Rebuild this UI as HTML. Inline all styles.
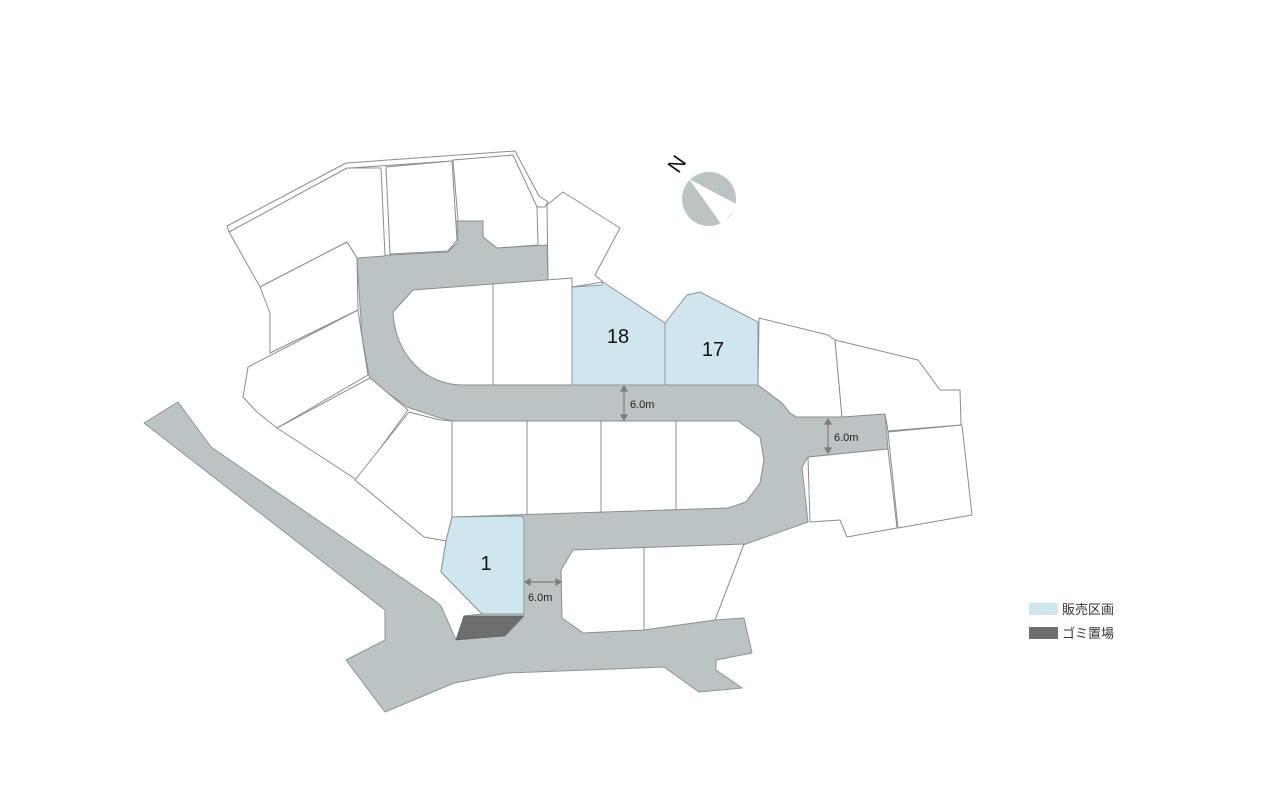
<!DOCTYPE html>
<html><head><meta charset="utf-8"><style>
html,body{margin:0;padding:0;background:#fff;}
svg{display:block;}
text{font-family:"Liberation Sans","Noto Sans CJK JP",sans-serif;}
</style></head><body>
<svg width="1280" height="800" viewBox="0 0 1280 800" xmlns="http://www.w3.org/2000/svg">
<rect width="1280" height="800" fill="#fff"/>
<polygon fill="#bcc3c5" stroke="#8c9496" stroke-width="1" stroke-linejoin="round" points="357,258 390,255 448,252 458,242 457,221 483,221 483,237 497,248 547,245 548,280 572,287 758,385 782,403 790,413 796,417 885,414 888,449 808,457 802,467 808,522 743,545 744,544 715,620 744,618 752,653 716,660 716,670 742,688 699,692 664,667 507,673 454,683 385,712 346,660 385,640 385,610 144,423 178,402 211,447 434,600 441,606 456,640 464,616 482,614 441,572 446,541 452,517 452,421 440,418 407,407 370,380 362,337"/>
<g fill="#fff" stroke="#8c8c8c" stroke-width="1" stroke-linejoin="round">
<polygon points="227,226 346,163 515,151 539,196 548,202 545,207 537,207 510,157 350,168 229,232"/>
<polygon points="229,232 347,168 381,168 385,256 357,258 347,242 260,287"/>
<polygon points="260,287 347,242 357,258 358,310 270,353 270,313"/>
<polygon points="248,367 358,310 362,337 368,375 277,428 257,412 243,397"/>
<polygon points="277,428 370,378 408,410 357,480"/>
<polygon points="355,480 409,412 440,420 452,421 452,517 446,541 424,537"/>
<polygon points="386,167 452,161 457,240 448,251 390,254"/>
<polygon points="453,160 513,155 537,207 538,245 497,248 483,237 483,221 458,221"/>
<polygon points="547,205 563,192 620,228 595,275 603,282 572,287 548,280"/>
<path d="M413 290 L572 278 L572 385 L463 385 C425 385 395 355 393 312 Z"/>
<line x1="493" y1="284" x2="493" y2="385"/>
<polygon points="452,421 738,421 760,437 764,460 760,483 746,502 728,508 452,517"/>
<line x1="527" y1="421" x2="527" y2="514"/>
<line x1="601" y1="421" x2="601" y2="512"/>
<line x1="676" y1="421" x2="676" y2="510"/>
<polygon points="573,550 744,544 715,620 644,630 583,633 562,618 561,570"/>
<line x1="644" y1="548" x2="644" y2="630"/>
<polygon points="759,318 828,335 835,340 842,417 796,417 790,413 782,403 758,385"/>
<polygon points="835,340 918,360 940,390 960,390 961,425 888,431 885,414 842,417"/>
<polygon points="808,457 888,449 897,528 847,537 840,520 810,522"/>
<polygon points="888,432 962,425 972,515 898,528"/>
</g>
<g fill="#d0e6ee" stroke="#8c9496" stroke-width="1">
<polygon points="572,287 602,285 603,282 665,323 665,385 572,385"/>
<polygon points="665,323 687,295 700,292 758,322 758,385 665,385"/>
<polygon points="452,517 522,516 524,520 524,614 482,614 441,572 446,541"/>
</g>
<polygon points="464,616 524,616 505,636 456,640" fill="#6e6e6e" stroke="#555" stroke-width="0.5"/>
<g font-size="20" fill="#111" text-anchor="middle">
<text x="618" y="343">18</text>
<text x="713" y="356">17</text>
<text x="486" y="570">1</text>
</g>
<g stroke="#7d7d7d" stroke-width="1.2" fill="#7d7d7d">
<line x1="624" y1="388" x2="624" y2="418"/>
<polygon points="621,391 627,391 624,386" /><polygon points="621,415 627,415 624,420"/>
<line x1="828" y1="421" x2="828" y2="451"/>
<polygon points="825,424 831,424 828,419"/><polygon points="825,448 831,448 828,453"/>
<line x1="527" y1="582" x2="559" y2="582"/>
<polygon points="530,579 530,585 525,582"/><polygon points="556,579 556,585 561,582"/>
</g>
<g font-size="11" fill="#222">
<text x="630" y="408">6.0m</text>
<text x="834" y="441">6.0m</text>
<text x="528" y="601">6.0m</text>
</g>
<circle cx="709" cy="199" r="27" fill="#bcc3c5"/>
<polygon points="689,179 738,205 722,225" fill="#fff"/>
<text x="677" y="171" font-size="21" fill="#111" text-anchor="middle" transform="rotate(-55 677 164)">N</text>
<rect x="1029" y="603" width="29" height="12" fill="#d0e6ee"/>
<text x="1062" y="614" font-size="13" fill="#333">販売区画</text>
<rect x="1029" y="627" width="29" height="12" fill="#6e6e6e"/>
<text x="1062" y="638" font-size="13" fill="#333">ゴミ置場</text>
</svg>
</body></html>
